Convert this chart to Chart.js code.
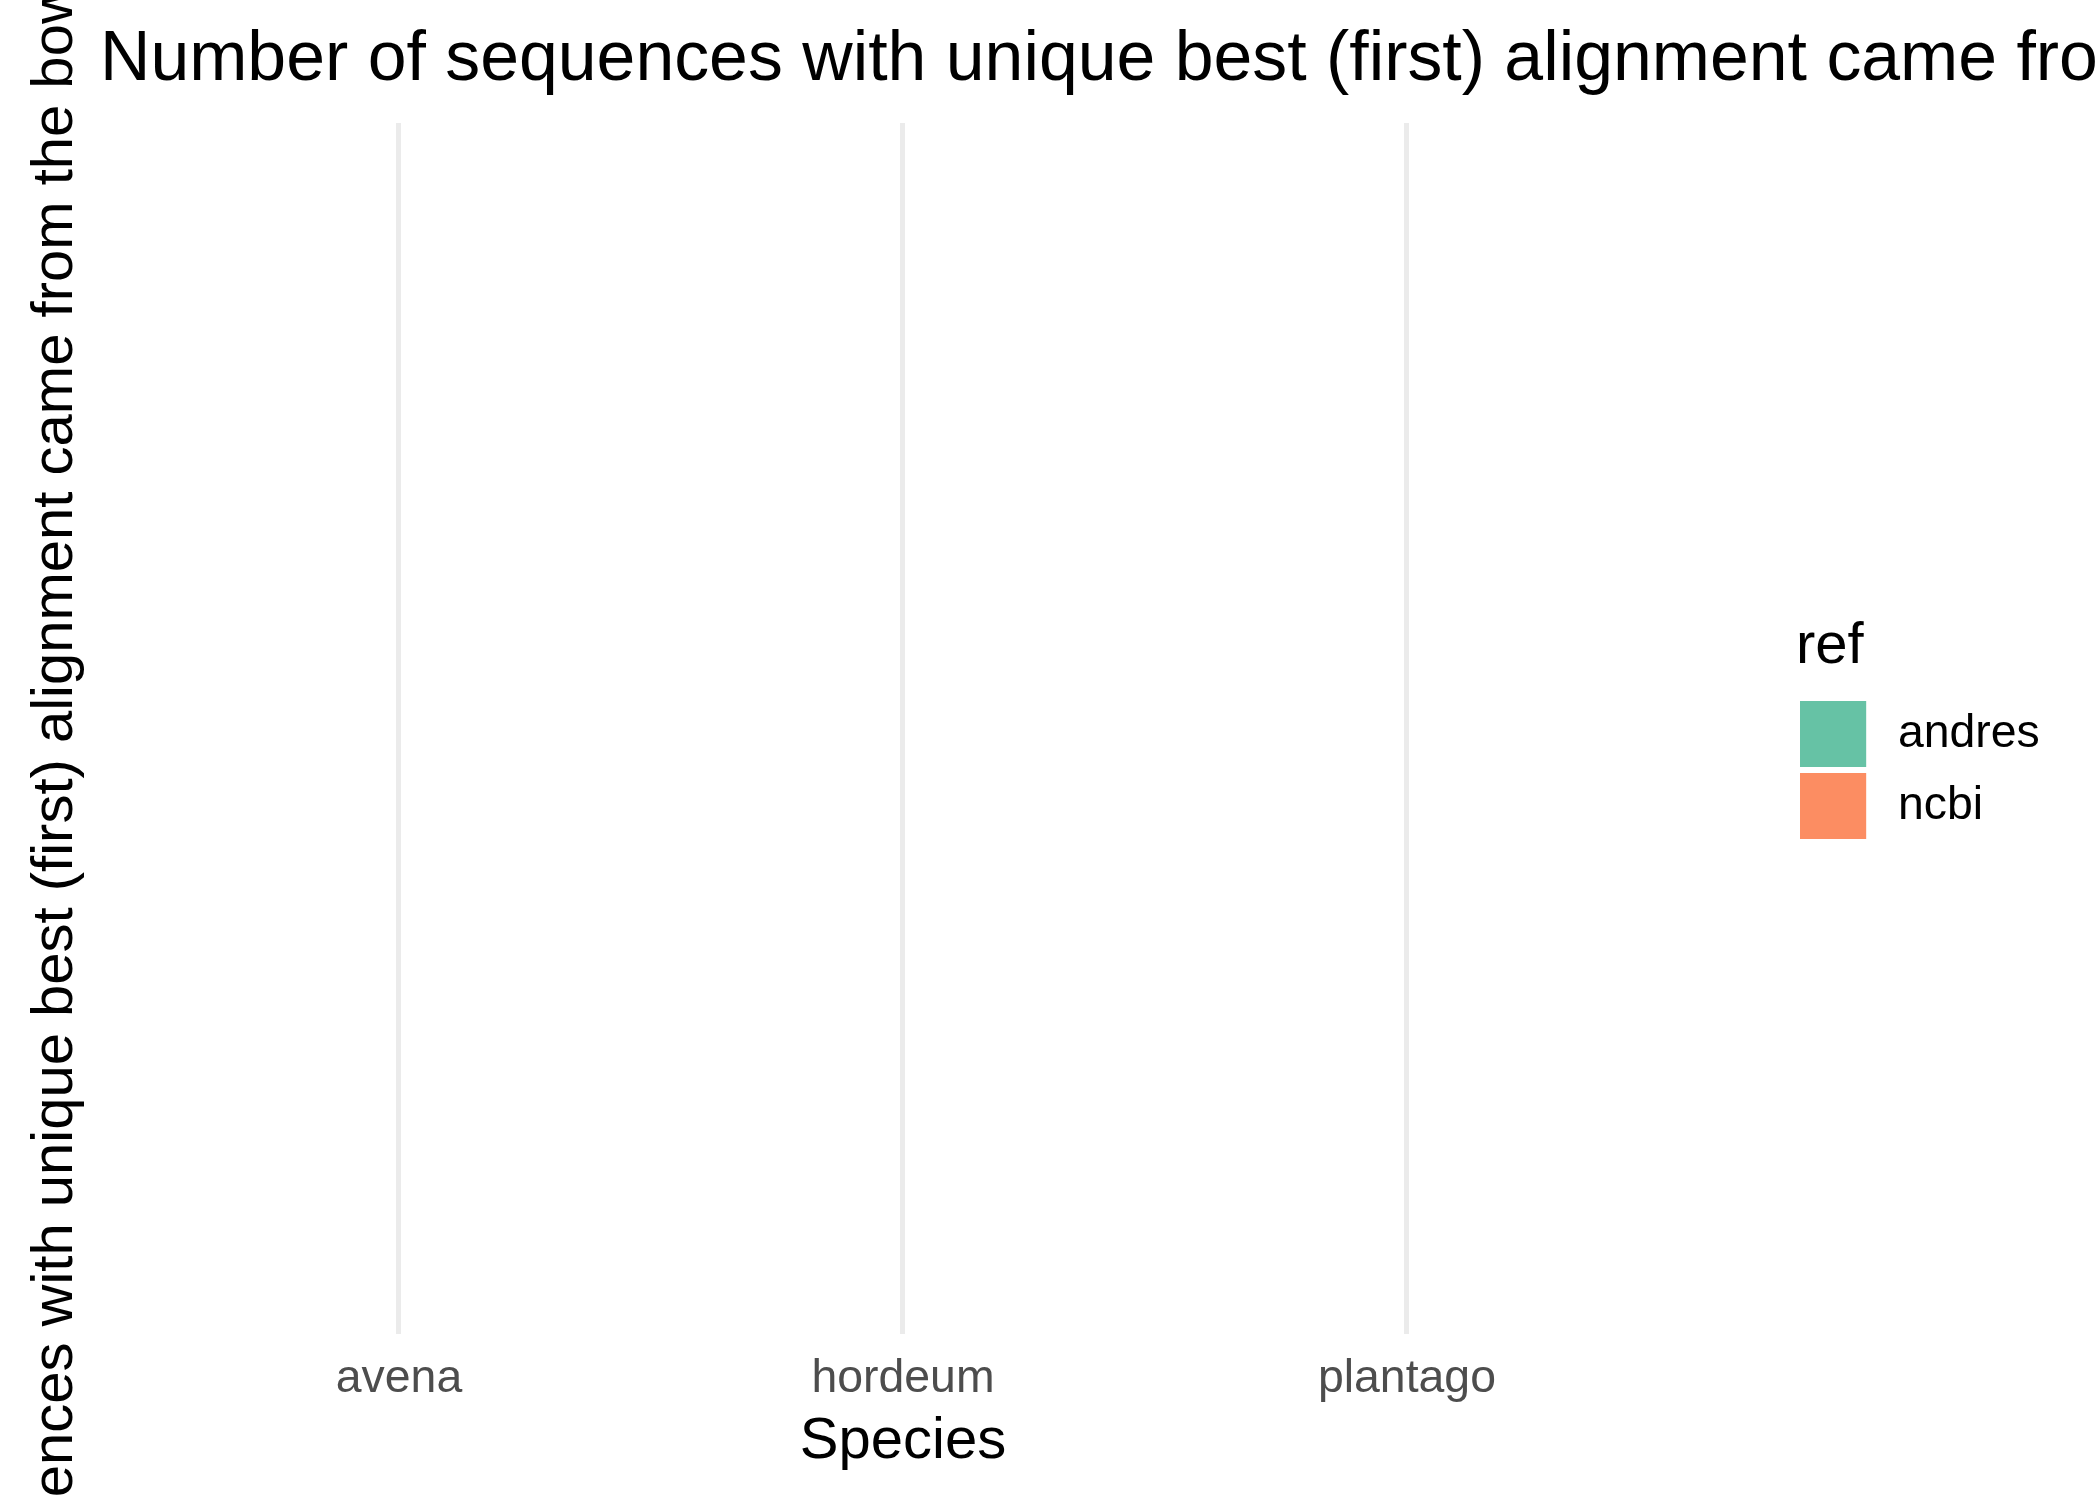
<!DOCTYPE html>
<html>
<head>
<meta charset="utf-8">
<script src="https://cdn.jsdelivr.net/npm/chart.js@4.4.1/dist/chart.umd.min.js"></script>
<style>
  html, body { margin: 0; padding: 0; background: #ffffff; }
  #wrap { width: 2100px; height: 1500px; }
</style>
</head>
<body>
<div id="wrap"><canvas id="c" width="2100" height="1500"></canvas></div>
<script>
// ---- data ----
const categories = ['avena', 'hordeum', 'plantago'];
const seriesNames = ['andres', 'ncbi'];
const andresValues = [null, null, null];
const ncbiValues = [null, null, null];
const seriesColors = ['#66c2a5', '#fc8d62'];
const plotTitle = 'Number of sequences with unique best (first) alignment came from each reference';
const xTitle = 'Species';
const yTitle = 'Number of sequences with unique best (first) alignment came from the bowtie2 reference db';
const legendTitle = 'ref';

const FONT = '"Liberation Sans", Arial, Helvetica, sans-serif';
Chart.defaults.font.family = FONT;

// ggplot-style 66px square legend keys (drawn at the left of a 96px-wide key image)
const keyImages = seriesColors.map(function (col) {
  const cv = document.createElement('canvas');
  cv.width = 96; cv.height = 66;
  const c2 = cv.getContext('2d');
  c2.fillStyle = col;
  c2.fillRect(0, 0, 66, 66);
  return cv;
});

const ggTitles = {
  id: 'ggTitles',
  beforeDraw(chart) {
    const ctx = chart.ctx;
    ctx.save();
    ctx.fillStyle = '#ffffff';
    ctx.fillRect(0, 0, chart.width, chart.height);
    ctx.restore();
  },
  afterDraw(chart) {
    const { ctx, chartArea } = chart;
    ctx.save();
    ctx.fillStyle = '#000000';
    ctx.textAlign = 'left';
    ctx.textBaseline = 'alphabetic';
    ctx.font = '69.8px ' + FONT;
    ctx.fillText(plotTitle, 100, 80);
    // y axis title
    ctx.font = '58px ' + FONT;
    ctx.translate(72, (chartArea.top + chartArea.bottom) / 2);
    ctx.rotate(-Math.PI / 2);
    ctx.textAlign = 'center';
    ctx.fillText(yTitle, 0, 0);
    ctx.restore();
  }
};

new Chart(document.getElementById('c'), {
  type: 'bar',
  data: {
    labels: categories,
    datasets: [
      { label: seriesNames[0], data: andresValues, backgroundColor: seriesColors[0], borderWidth: 0 },
      { label: seriesNames[1], data: ncbiValues, backgroundColor: seriesColors[1], borderWidth: 0 }
    ]
  },
  options: {
    responsive: false,
    animation: false,
    devicePixelRatio: 1,
    layout: { padding: { left: 147, top: 123, right: 50.2, bottom: 23.4 } },
    scales: {
      x: {
        grid: { display: true, color: '#ebebeb', lineWidth: 5, offset: false, drawTicks: false },
        border: { display: false },
        ticks: { color: '#4d4d4d', font: { size: 46.4, lineHeight: 1.1 }, padding: 20 },
        title: { display: true, text: xTitle, color: '#000000', font: { size: 58, lineHeight: 1.2 }, padding: { top: -18, bottom: 0 } }
      },
      y: {
        position: 'right',
        display: true,
        grid: { display: false, drawTicks: false },
        border: { display: false },
        ticks: { display: false },
        title: { display: false },
        afterFit(scale) { scale.width = 137; }
      }
    },
    plugins: {
      title: { display: false },
      tooltip: { enabled: false },
      legend: {
        display: true,
        position: 'right',
        align: 'center',
        fullSize: false,
        title: { display: true, text: legendTitle, color: '#000000', position: 'start',
                 font: { size: 58, lineHeight: 1.2 }, padding: { top: 15.8, bottom: -2.4 } },
        labels: {
          usePointStyle: true,
          pointStyleWidth: 53.2,
          padding: 25.6,
          color: '#000000',
          font: { size: 46.4 },
          generateLabels(chart) {
            const items = Chart.defaults.plugins.legend.labels.generateLabels(chart);
            items.forEach(function (it, i) { it.pointStyle = keyImages[i % keyImages.length]; });
            return items;
          }
        }
      }
    }
  },
  plugins: [ggTitles]
});
</script>
</body>
</html>
